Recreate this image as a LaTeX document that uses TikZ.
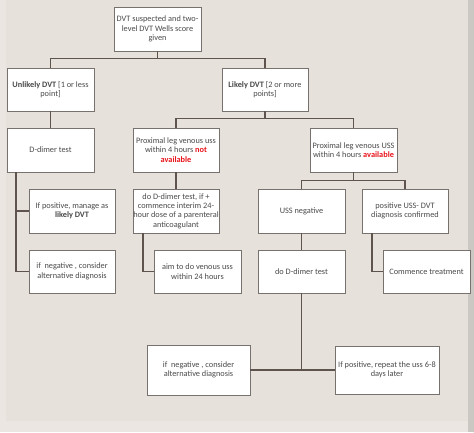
\documentclass[tikz,border=0pt]{standalone}
\usepackage{fontspec}
\setmainfont{Carlito}
\usetikzlibrary{calc}
\definecolor{bgc}{HTML}{E7E1DB}
\definecolor{bgl}{HTML}{EBE6E1}
\definecolor{edge}{HTML}{CBC7C3}
\definecolor{boxline}{HTML}{77726E}
\definecolor{conn}{HTML}{5E544D}
\definecolor{txt}{HTML}{4A4A4A}
\definecolor{alert}{HTML}{E8141B}
\tikzset{
  fbox/.style={draw=boxline, line width=0.9pt, fill=white, inner sep=0pt,
    minimum width=87pt, minimum height=44pt, align=center, text=txt,
    font=\fontsize{8.3}{9.4}\selectfont},
  link/.style={draw=conn, line width=1.2pt},
}
\newcommand{\redb}[1]{\textcolor{alert}{\textbf{#1}}}
\begin{document}
\begin{tikzpicture}[x=1pt,y=-1pt]
\useasboundingbox (0,0) rectangle (474,432);
\fill[bgc] (0,0) rectangle (474,432);
\fill[bgl] (0,0) rectangle (6,432);
\fill[bgl] (0,421) rectangle (474,432);
\fill[edge] (468,0) rectangle (474,432);

\node[fbox] (top) at (157.5,29) {DVT suspected and two-\\level DVT Wells score\\given};
\node[fbox, minimum height=43pt] (unlikely) at (50.5,89.5) {\textbf{Unlikely DVT} [1 or less\\point]};
\node[fbox, minimum height=43pt, minimum width=86pt] (likely) at (265,89.5) {\textbf{Likely DVT} [2 or more\\points]};
\node[fbox] (ddimer) at (50.5,150) {D-dimer test};
\node[fbox, minimum width=86pt] (notavail) at (176,150) {Proximal leg venous uss\\within 4 hours \redb{not}\\\redb{available}};
\node[fbox] (avail) at (353.5,150) {Proximal leg venous USS\\within 4 hours \redb{available}};
\node[fbox, minimum width=86pt] (ifpos) at (72,211) {If positive, manage as\\\textbf{likely DVT}};
\node[fbox, minimum width=86pt] (dodd) at (176,211) {do D-dimer test, if +\\commence interim 24-\\hour dose of a parenteral\\anticoagulant};
\node[fbox] (ussneg) at (301.5,211) {USS negative};
\node[fbox, minimum width=86pt] (posuss) at (405,211) {positive USS- DVT\\diagnosis confirmed};
\node[fbox, minimum width=86pt, minimum height=43pt] (ifneg) at (72,271.5) {if\ \ negative , consider\\alternative diagnosis};
\node[fbox, minimum height=43pt] (aim) at (197.5,271.5) {aim to do venous uss\\within 24 hours};
\node[fbox, minimum height=43pt] (dodd2) at (301.5,271.5) {do D-dimer test};
\node[fbox, minimum height=43pt] (commence) at (426.5,271.5) {Commence treatment};
\node[fbox, minimum width=103pt, minimum height=50pt] (ifneg2) at (198.5,370) {if\ \ negative , consider\\alternative diagnosis};
\node[fbox, minimum width=104pt, minimum height=48pt] (ifpos2) at (387,370) {If positive, repeat the uss 6-8\\days later};

% connectors
\draw[link] (top.south) -- ++(0,8);
\draw[link] (unlikely.north) -- ++(0,-9) -| (likely.north);
\draw[link] (unlikely.south) -- (ddimer.north);
\draw[link] (likely.south) -- ++(0,8);
\draw[link] (notavail.north) -- ++(0,-9) -| (avail.north);
\draw[link] (notavail.south) -- (dodd.north);
\draw[link] (avail.south) -- ++(0,9);
\draw[link] (ussneg.north) -- ++(0,-8) -| (posuss.north);
\draw[link] ([xshift=-34.5pt]ddimer.south) |- (ifneg.west);
\draw[link] ([xshift=-34.5pt]ddimer.south |- ifpos.west) -- (ifpos.west);
\draw[link] ([xshift=-33pt]dodd.south) |- (aim.west);
\draw[link] (ussneg.south) -- (dodd2.north);
\draw[link] ([xshift=-33pt]posuss.south) |- (commence.west);
\draw[link] (dodd2.south) -- (dodd2.south |- ifneg2.east);
\draw[link] (ifneg2.east) -- (ifpos2.west);
\end{tikzpicture}
\end{document}
